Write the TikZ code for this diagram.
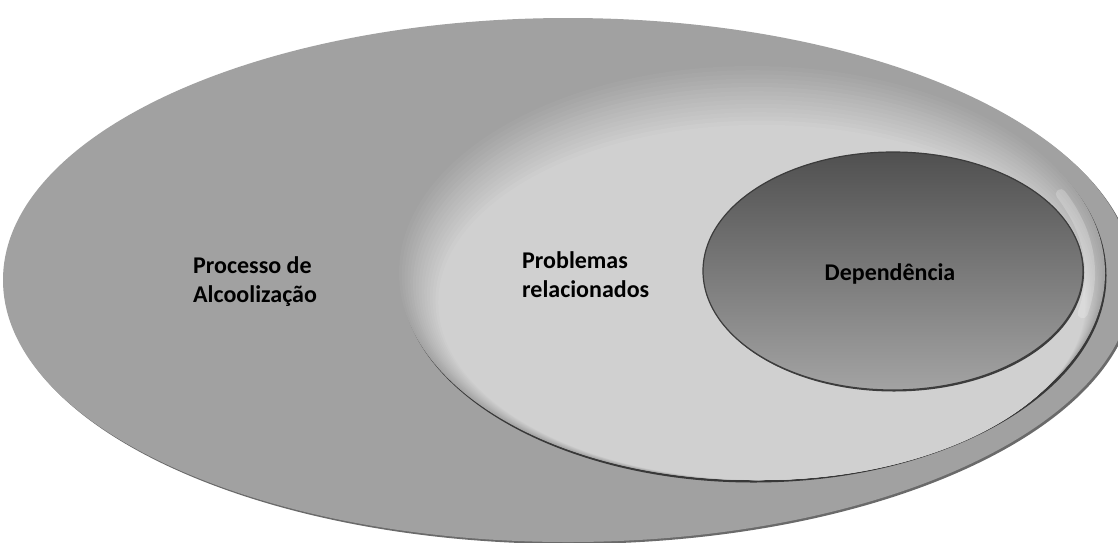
\documentclass[tikz,border=0pt]{standalone}
\usepackage{fontspec}
\setmainfont{Carlito}
\usepackage{xcolor}
\usepackage{tikz}

\definecolor{outerGrey}{HTML}{A1A1A1}
\definecolor{outerRim}{HTML}{6A6A6A}
\definecolor{faceLight}{HTML}{D0D0D0}
\definecolor{faceEdge}{HTML}{A4A4A4}
\definecolor{faceLine}{HTML}{383838}
\definecolor{depTop}{HTML}{505050}
\definecolor{depMid}{HTML}{6C6C6C}
\definecolor{depBot}{HTML}{A3A3A3}
\definecolor{depLine}{HTML}{3C3C3C}

\begin{document}
\begin{tikzpicture}[x=1pt,y=-1pt,
  caption/.style={font=\fontsize{24}{29}\selectfont\bfseries,align=left,inner sep=0pt,text=black},
  shine/.style={draw=white,opacity=0.22,line width=10pt,line cap=round}]
\useasboundingbox (0,0) rectangle (1118,542);
\clip (0,0) rectangle (1118,542);
\fill[white] (0,0) rectangle (1118,542);

  % outer ellipse
  \coordinate (outer) at (568,280);
  \fill[outerRim] ([shift={(2,2)}]outer) ellipse [x radius=565, y radius=262];
  \fill[outerGrey] (outer) ellipse [x radius=565, y radius=262];

  % middle ellipse, soft darker rim at top and left
  \coordinate (mid) at (752,273);
  \fill[faceLine] ([shift={(1.5,2.5)}]mid) ellipse [x radius=353, y radius=207];
  \foreach \k in {0,...,14}{
    \pgfmathtruncatemacro\pc{100*\k/14}
    \fill[faceLight!\pc!faceEdge] ([shift={(0.7*\k,2.1*\k)}]mid) ellipse [x radius=353-2.1*\k, y radius=207-2.1*\k];
  }
  \draw[shine] ([shift={(-24:338 and 194)}]mid) arc[start angle=-24, end angle=12, x radius=338, y radius=194];

  % inner ellipse
  \coordinate (dep) at (893,271);
  \fill[depLine] ([shift={(1,1.5)}]dep) ellipse [x radius=190, y radius=119];
  \shadedraw[top color=depTop, middle color=depMid, bottom color=depBot, draw=depLine, line width=1.2pt] (dep) ellipse [x radius=190, y radius=119];

  \node[caption,anchor=west] (proc) at (193,282) {Processo de\\Alcoolização};
  \node[caption,anchor=west] (prob) at (522,275) {Problemas\\relacionados};
  \node[caption,anchor=base] (depl) at (890,280) {Dependência};

\end{tikzpicture}
\end{document}
